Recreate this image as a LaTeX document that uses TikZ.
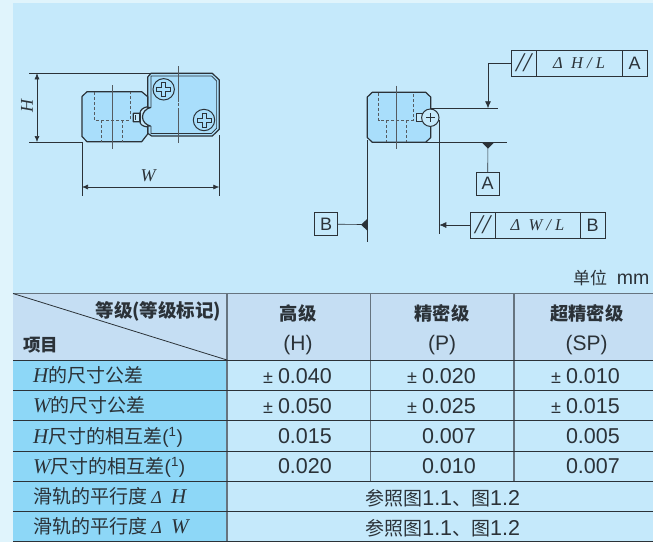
\documentclass[tikz,border=0pt]{standalone}
\usepackage{fontspec}
\setmainfont{Liberation Sans}
\newfontfamily\cjk{Noto Sans CJK SC}
\newfontfamily\serifit[ItalicFont=Liberation Serif Italic]{Liberation Serif}
\usetikzlibrary{arrows.meta,positioning}
\definecolor{strip}{HTML}{E0F4FC}
\definecolor{paper}{HTML}{C5E9FB}
\definecolor{headblue}{HTML}{C5DEF3}
\definecolor{itemblue}{HTML}{8DD7F7}
\definecolor{partblue}{HTML}{A9DEFB}
\definecolor{ink}{HTML}{2B3238}
\definecolor{rulegray}{HTML}{66747F}
\newcommand{\ital}[1]{{\serifit\itshape #1}}
\newcommand{\numf}{\fontsize{21.5}{21.5}\selectfont}
\newcommand{\varf}[1]{{\serifit\itshape\fontsize{21}{21}\selectfont #1}}
\newcommand{\phillips}[2]{%
  \draw[ink,line width=1pt] (#1,#2) circle (10.7);
  \draw[ink,line width=.8pt] (#1-2,#2-7) -- (#1+2,#2-7) -- (#1+2,#2-2) -- (#1+7,#2-2) -- (#1+7,#2+2) -- (#1+2,#2+2) -- (#1+2,#2+7) -- (#1-2,#2+7) -- (#1-2,#2+2) -- (#1-7,#2+2) -- (#1-7,#2-2) -- (#1-2,#2-2) -- cycle;}
\begin{document}
\begin{tikzpicture}[x=1pt,y=-1pt,
            part/.style={draw=ink,line width=1.2pt,fill=partblue,line join=round},
            hidden/.style={draw=ink!80,line width=.6pt,dash pattern=on 3pt off 2pt},
            axis/.style={draw=ink!80,line width=.6pt},
            dim/.style={draw=ink,line width=.6pt},
            dimarrow/.style={dim,{Latex[length=6pt,width=5pt]}-{Latex[length=6pt,width=5pt]}},
            tip/.style={draw=ink,line width=.7pt,-{Latex[length=7pt,width=6pt]}},
            frm/.style={draw=ink,line width=.9pt,minimum height=26pt,inner sep=0,outer sep=0,text=ink,font=\fontsize{16.5}{16.5}\selectfont},
            letter/.style={frm,minimum width=25pt,font=\fontsize{18}{18}\selectfont},
            slashes/.style={frm,minimum width=25pt,font=\fontsize{27}{27}\selectfont},
            datum/.style={letter,minimum width=23pt,minimum height=23pt},
            val/.style={anchor=base east,inner sep=0,text=ink,font=\numf},
            pm/.style={anchor=base east,inner sep=0,text=ink,font=\fontsize{18}{18}\selectfont},
            head/.style={anchor=base,inner sep=0,text=ink,font=\cjk\bfseries\fontsize{18.3}{18.3}\selectfont},
            grade/.style={anchor=base,inner sep=0,text=ink,font=\fontsize{21}{21}\selectfont},
            item/.style={anchor=base west,inner sep=0,text=ink,font=\cjk\fontsize{19}{19}\selectfont},
            merged/.style={anchor=base,inner sep=0,text=ink,font=\cjk\fontsize{19}{19}\selectfont},
            hrule/.style={draw=ink,line width=.8pt},
            vrule/.style={draw=rulegray,line width=1.2pt}
          ]
          \useasboundingbox (0,0) rectangle (653,542);
          \fill[strip] (0,0) rectangle (653,542);
          \fill[paper] (13,3) rectangle (653,542);

          %left view, rail
          \draw[part] (147.7,77) -- (151,73.3) -- (212.3,73.3) -- (219.3,80) -- (219.3,129.3) -- (212.3,136) -- (151.7,136) -- (147.7,133.3) -- (147.7,126) -- (150.5,126)
            .. controls (146,125) and (142.5,121.5) .. (142.5,117)
            .. controls (142.5,112.5) and (146,108.5) .. (150.5,107.5) -- (147.7,107.5) -- cycle;
          \draw[ink,line width=.7pt] (151,107.5) -- (151,76) -- (211.5,76) -- (216.6,81) -- (216.6,128.3) -- (211.5,133.4) -- (151,133.4) -- (151,126);
          \phillips{163.7}{89.3}
          \phillips{204}{120}
          \draw[axis] (178,66) -- (178,101.7);
          \draw[axis] (178,102.8) -- (178,105.7);
          \draw[axis] (178,108) -- (178,143);

          %left view, carriage
          \draw[part] (87,91.7) -- (141.7,91.7) -- (147.7,96.7) -- (147.7,106.7)
            .. controls (143,107.5) and (140,110) .. (140,113.3) -- (133.3,113.3) -- (133.3,121.7) -- (140,121.7)
            .. controls (140,124.5) and (143,126.5) .. (147.7,127) -- (147.7,134) -- (141.7,141.7) -- (87,141.7) -- (82,136.5) -- (82,96.5) -- cycle;
          \draw[ink,line width=1.4pt] (140,113.3) -- (140,121.7);
          \draw[ink,line width=1.4pt] (135.3,115.3) -- (135.3,119.7);
          \draw[hidden] (94.3,92) -- (94.3,120) -- (130.3,120) -- (130.3,92);
          \draw[hidden] (101.7,120) -- (101.7,142);
          \draw[hidden] (122.3,120) -- (122.3,142);
          \draw[axis] (112,85) -- (112,149.3);

          %dimensions
          \coordinate (ht) at (37,73.3);
          \coordinate (hb) at (37,142);
          \coordinate (wl) at (82,187);
          \coordinate (wr) at (219.3,187);
          \draw[dim] (29,73.3) -- (150,73.3);
          \draw[dim] (29,142) -- (82,142);
          \draw[dim] (82,142) -- (82,196);
          \draw[dim] (219.3,135) -- (219.3,196);
          \draw[dimarrow] (ht) -- (hb);
          \draw[dimarrow] (wl) -- (wr);
          \node[rotate=90,inner sep=0,text=ink,font=\fontsize{18}{18}\selectfont] (labH) at (27,106) {\ital{H}};
          \node[inner sep=0,text=ink,font=\fontsize{18}{18}\selectfont] (labW) at (148,176) {\ital{W}};

          %right view
          \draw[part] (372.3,92.3) -- (425.7,92.3) -- (430.7,97) -- (430.7,137.5) -- (425.7,142.3) -- (372.3,142.3) -- (367.3,137.5) -- (367.3,97) -- cycle;
          \draw[hidden] (378.7,92.5) -- (378.7,120) -- (413.3,120) -- (413.3,92.5);
          \draw[hidden] (386,120) -- (386,142);
          \draw[hidden] (406,120) -- (406,142);
          \draw[axis] (396.3,85.7) -- (396.3,149);
          \draw[ink,line width=.9pt,fill=paper] (416.3,113.3) rectangle (422,121.7);
          \draw[ink,line width=1pt,fill=paper] (430.3,117.7) circle (8.7);
          \draw[ink,line width=.9pt] (426,117.7) -- (434.6,117.7);
          \draw[ink,line width=.9pt] (430.3,113.4) -- (430.3,122);

          %extension lines
          \coordinate (refH) at (488,108.3);
          \coordinate (refA) at (488,142.3);
          \coordinate (refW) at (439.3,225);
          \coordinate (refB) at (361.5,224.5);
          \draw[dim] (430,108.3) -- (498,108.3);
          \draw[dim] (425,142.3) -- (506.7,142.3);
          \draw[dim] (439.3,120) -- (439.3,234);
          \draw[dim] (367.7,140) -- (367.7,242);

          %frames
          \node[slashes] (par1) at (523.5,63) {\ital{//}};
          \node[frm,minimum width=86pt,right=0pt of par1] (dh) {\ital{Δ\ \ H\ /\ L}};
          \node[letter,right=0pt of dh] (a1) {A};
          \node[slashes] (par2) at (482.5,225) {\ital{//}};
          \node[frm,minimum width=85pt,right=0pt of par2] (dw) {\ital{Δ\ \ W\ /\ L}};
          \node[letter,right=0pt of dw] (b1) {B};
          \node[datum] (a2) at (487.7,183.5) {A};
          \node[datum] (b2) at (326.2,224.2) {B};

          \draw[tip] (par1.west) -| (refH);
          \draw[tip] (par2.west) -- (refW);
          \draw[dim] (a2.north) -- (refA);
          \draw[dim] (b2.east) -- (refB);
          \fill[ink] (481.7,142.3) -- (494.3,142.3) -- (488,148.5) -- cycle;
          \fill[ink] (367.7,218.5) -- (367.7,231) -- (361,224.7) -- cycle;

          %unit
          \node[anchor=base east,inner sep=0,text=ink,font=\fontsize{19.5}{19.5}\selectfont] (unit) at (649.5,284) {{\cjk\fontsize{17}{17}\selectfont 单位}\,\,\,mm};

          %table fills
          \fill[headblue] (13,293.5) rectangle (653,360);
          \fill[itemblue] (13,360) rectangle (227,541);

          %table header
          \node[anchor=base east,inner sep=0,text=ink,font=\cjk\bfseries\fontsize{18.5}{18.5}\selectfont] (grades) at (221.5,317) {等级(等级标记)};
          \node[anchor=base west,inner sep=0,text=ink,font=\cjk\bfseries\fontsize{17.5}{17.5}\selectfont] (items) at (23,351) {项目};
          \node[head] (high) at (298,320) {高级};
          \node[grade] (highc) at (298,350.7) {(H)};
          \node[head] (prec) at (442,320) {精密级};
          \node[grade] (precc) at (442,350.7) {(P)};
          \node[head] (super) at (586.7,320) {超精密级};
          \node[grade] (superc) at (586.7,350.7) {(SP)};

          %row labels
          \node[item] (r1) at (33,382.7) {\varf{H}的尺寸公差};
          \node[item] (r2) at (33,412.7) {\varf{W}的尺寸公差};
          \node[item] (r3) at (33,443.2) {\varf{H}尺寸的相互差{\rmfamily(\textsuperscript{1})}};
          \node[item] (r4) at (33,473.2) {\varf{W}尺寸的相互差{\rmfamily(\textsuperscript{1})}};
          \node[item] (r5) at (33,503.7) {滑轨的平行度 {\serifit\itshape\fontsize{18}{18}\selectfont Δ\ \ \fontsize{21}{21}\selectfont H}};
          \node[item] (r6) at (33,533.7) {滑轨的平行度 {\serifit\itshape\fontsize{18}{18}\selectfont Δ\ \ \fontsize{21}{21}\selectfont W}};

          %values
          \node[val] (v11) at (332,383.3) {0.040};
          \node[pm,left=4.5pt of v11.base west,anchor=base east] (p11) {±};
          \node[val] (v12) at (476,383.3) {0.020};
          \node[pm,left=4.5pt of v12.base west,anchor=base east] (p12) {±};
          \node[val] (v13) at (620,383.3) {0.010};
          \node[pm,left=4.5pt of v13.base west,anchor=base east] (p13) {±};
          \node[val] (v21) at (332,413.3) {0.050};
          \node[pm,left=4.5pt of v21.base west,anchor=base east] (p21) {±};
          \node[val] (v22) at (476,413.3) {0.025};
          \node[pm,left=4.5pt of v22.base west,anchor=base east] (p22) {±};
          \node[val] (v23) at (620,413.3) {0.015};
          \node[pm,left=4.5pt of v23.base west,anchor=base east] (p23) {±};
          \node[val] (v31) at (332,443.5) {0.015};
          \node[val] (v32) at (476,443.5) {0.007};
          \node[val] (v33) at (620,443.5) {0.005};
          \node[val] (v41) at (332,473.7) {0.020};
          \node[val] (v42) at (476,473.7) {0.010};
          \node[val] (v43) at (620,473.7) {0.007};
          \node[merged] (m1) at (442.7,505) {参照图{\numf\rmfamily 1.1}、图{\numf\rmfamily 1.2}};
          \node[merged] (m2) at (442.7,535) {参照图{\numf\rmfamily 1.1}、图{\numf\rmfamily 1.2}};

          %table rules
          \draw[vrule] (227,293.5) -- (227,541.5);
          \draw[vrule] (370.5,293.5) -- (370.5,481);
          \draw[vrule] (514,293.5) -- (514,481);
          \draw[hrule,draw=rulegray,line width=1.1pt] (13,293.5) -- (653,293.5);
          \draw[hrule] (13,360) -- (653,360);
          \draw[hrule] (13,390.5) -- (653,390.5);
          \draw[hrule] (13,420.7) -- (653,420.7);
          \draw[hrule] (13,451) -- (653,451);
          \draw[hrule] (13,481) -- (653,481);
          \draw[hrule] (13,511.3) -- (653,511.3);
          \draw[hrule] (13,541.3) -- (653,541.3);
          \draw[hrule] (13,293.5) -- (227,360);
      \end{tikzpicture}
\end{document}
